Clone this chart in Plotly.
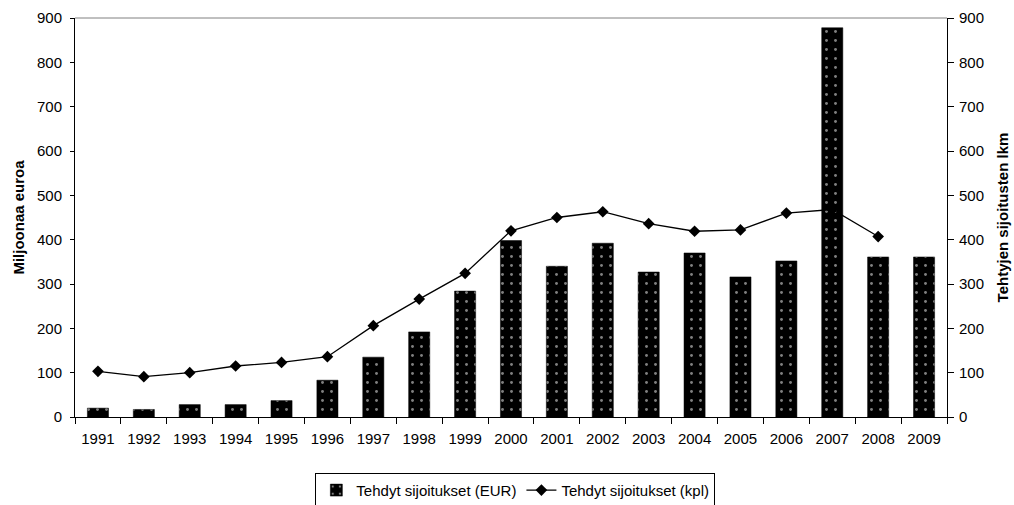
import plotly.graph_objects as go

years = [str(y) for y in range(1991, 2010)]
eur = [20, 17, 28, 28, 37, 83, 135, 192, 284, 398, 340, 392, 327, 370, 316, 352, 878, 361, 361]
kpl = [103, 91, 100, 115, 123, 136, 206, 266, 324, 420, 450, 463, 436, 419, 422, 460, 468, 407, None]

font = "Liberation Sans, Arial, sans-serif"

fig = go.Figure()
fig.add_trace(go.Bar(
    x=years, y=eur, name="Tehdyt sijoitukset (EUR)",
    marker=dict(color="black", line=dict(color="black", width=0.5),
                pattern=dict(shape=".", fgcolor="white", bgcolor="black", size=9, solidity=0.08)),
))
fig.add_trace(go.Scatter(
    x=years, y=kpl, name="Tehdyt sijoitukset (kpl)", yaxis="y2",
    mode="lines+markers", line=dict(color="black", width=1.3),
    marker=dict(symbol="diamond", size=9, color="black"),
))

fig.update_layout(
    width=1014, height=505,
    margin=dict(l=75, r=67, t=18, b=88, autoexpand=False),
    paper_bgcolor="white", plot_bgcolor="white",
    font=dict(family=font, size=15, color="black"),
    bargap=0.54,
    showlegend=True,
    legend=dict(orientation="h", x=0.505, xanchor="center", y=-0.14, yanchor="top",
                bordercolor="black", borderwidth=1, font=dict(size=15),
                tracegroupgap=0),
    xaxis=dict(type="category", range=[-0.5, 18.5], showline=True, linecolor="black", linewidth=1,
               ticks="outside", ticklen=6, tickson="boundaries", tickcolor="black",
               ticklabelstandoff=8,
               showgrid=False, mirror=False, automargin=False),
    yaxis=dict(range=[0, 900], dtick=100, showline=True, linecolor="black",
               ticks="outside", ticklen=4, tickcolor="black", showgrid=False, automargin=False,
               ticklabelstandoff=5,
               title=dict(text="<b>Miljoonaa euroa</b>", font=dict(size=15), standoff=8), zeroline=False),
    yaxis2=dict(range=[0, 900], dtick=100, overlaying="y", side="right", showline=True,
                linecolor="black", ticks="outside", ticklen=6, tickcolor="black", showgrid=False,
                automargin=False, ticklabelstandoff=2,
                title=dict(text="<b>Tehtyjen sijoitusten lkm</b>", font=dict(size=15), standoff=14), zeroline=False),
    shapes=[dict(type="line", xref="paper", yref="paper", x0=0, x1=1, y0=1, y1=1,
                 line=dict(color="#808080", width=1))],
)

fig.write_html("out.html", config={"displayModeBar": False},
               post_script="document.body.style.margin='0';document.body.style.overflow='hidden';")
